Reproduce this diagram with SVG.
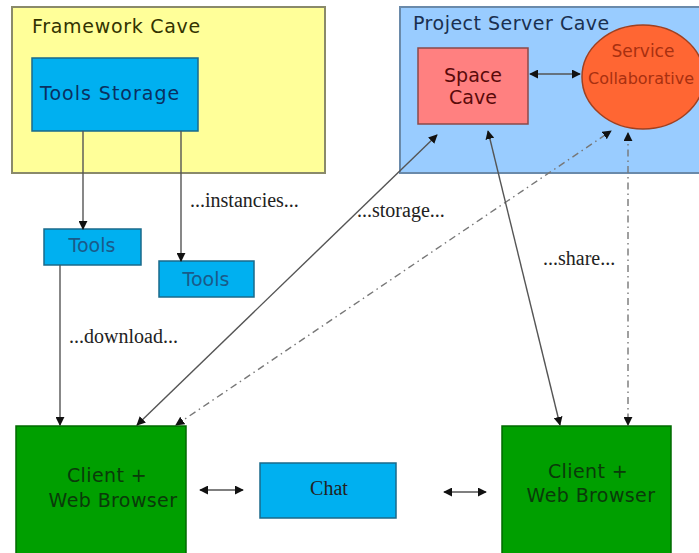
<svg xmlns="http://www.w3.org/2000/svg" width="699" height="553" viewBox="0 0 699 553">
  <style>
    .sans { font-family: "DejaVu Sans", "Liberation Sans", sans-serif; font-size: 19px; }
    .serif { font-family: "Liberation Serif", "DejaVu Serif", serif; font-size: 20px; fill: #222; }
    .small { font-size: 17px; }
    .tiny { font-size: 16px; }
    .blue { fill: #00b0f0; stroke: #1a6a8a; stroke-width: 1.5; }
    .green { fill: #009f00; stroke: #006a00; stroke-width: 1.5; }
    .link { fill: none; stroke: #555; stroke-width: 1.4; }
    .dashdot { fill: none; stroke: #777; stroke-width: 1.4; stroke-dasharray: 7 4 1.5 4; }
  </style>
  <defs>
    <marker id="head" viewBox="0 0 10 10" refX="9" refY="5" markerWidth="9" markerHeight="9" markerUnits="userSpaceOnUse" orient="auto-start-reverse">
      <path d="M0,0 L10,5 L0,10 z" fill="#111"/>
    </marker>
  </defs>

  <rect width="699" height="553" fill="#ffffff"/>

  <g id="framework-cave">
    <rect x="12" y="7" width="313" height="166" fill="#ffff99" stroke="#8a8a6a" stroke-width="2"/>
    <text class="sans" x="32" y="33" letter-spacing="0.7" fill="#333300">Framework Cave</text>
  </g>

  <g id="project-server-cave">
    <rect x="400" y="7" width="305" height="166" fill="#99ccff" stroke="#6a8aaa" stroke-width="2"/>
    <text class="sans" x="413" y="30" letter-spacing="0.5" fill="#1a3050">Project Server Cave</text>
  </g>

  <g id="tools-storage">
    <rect class="blue" x="32" y="58" width="166" height="73"/>
    <text class="sans" x="40" y="100" letter-spacing="1" fill="#0a3060">Tools Storage</text>
  </g>

  <g id="space-cave">
    <rect x="418" y="48" width="110" height="76" fill="#ff8080" stroke="#8a4a4a" stroke-width="1.5"/>
    <text class="sans" x="473" y="82" text-anchor="middle" fill="#5a0a0a">Space</text>
    <text class="sans" x="473" y="104" text-anchor="middle" fill="#5a0a0a">Cave</text>
  </g>

  <g id="service-collaborative">
    <ellipse cx="643" cy="77" rx="61" ry="52" fill="#ff6633" stroke="#a04020" stroke-width="1.5"/>
    <text class="sans small" x="643" y="57" text-anchor="middle" fill="#a83010">Service</text>
    <text class="sans tiny" x="588" y="84" fill="#a83010">Collaborative</text>
  </g>

  <g id="tools-1">
    <rect class="blue" x="44" y="229" width="97" height="36"/>
    <text class="sans" x="92" y="252" text-anchor="middle" fill="#1a5a8a">Tools</text>
  </g>

  <g id="tools-2">
    <rect class="blue" x="159" y="261" width="95" height="36"/>
    <text class="sans" x="206" y="286" text-anchor="middle" fill="#1a5a8a">Tools</text>
  </g>

  <g id="client-left">
    <rect class="green" x="16" y="426" width="170" height="135"/>
    <text class="sans" x="107" y="482" text-anchor="middle" letter-spacing="0.4" fill="#0a3a0a">Client +</text>
    <text class="sans" x="113" y="507" text-anchor="middle" letter-spacing="0.4" fill="#0a3a0a">Web Browser</text>
  </g>

  <g id="chat">
    <rect class="blue" x="260" y="463" width="136" height="55"/>
    <text class="serif" x="329" y="495" text-anchor="middle" fill="#0a3060">Chat</text>
  </g>

  <g id="client-right">
    <rect class="green" x="502" y="426" width="169" height="135"/>
    <text class="sans" x="588" y="478" text-anchor="middle" letter-spacing="0.4" fill="#0a3a0a">Client +</text>
    <text class="sans" x="591" y="502" text-anchor="middle" letter-spacing="0.4" fill="#0a3a0a">Web Browser</text>
  </g>

  <g id="connectors">
    <line class="link" x1="83" y1="131" x2="83" y2="229" marker-end="url(#head)"/>
    <line class="link" x1="181" y1="131" x2="181" y2="261" marker-end="url(#head)"/>
    <line class="link" x1="60" y1="265" x2="60" y2="425" marker-end="url(#head)"/>
    <line class="link" x1="137" y1="425" x2="437" y2="135" marker-start="url(#head)" marker-end="url(#head)"/>
    <line class="dashdot" x1="176" y1="425" x2="611" y2="131" marker-start="url(#head)" marker-end="url(#head)"/>
    <line class="link" x1="488" y1="131" x2="560" y2="425" marker-start="url(#head)" marker-end="url(#head)"/>
    <line class="dashdot" x1="628" y1="133" x2="628" y2="425" marker-start="url(#head)" marker-end="url(#head)"/>
    <line class="link" x1="530" y1="74" x2="580" y2="74" stroke="#111" marker-start="url(#head)" marker-end="url(#head)"/>
    <line class="link" x1="200" y1="490" x2="243" y2="490" stroke="#111" marker-start="url(#head)" marker-end="url(#head)"/>
    <line class="link" x1="444" y1="492" x2="486" y2="492" stroke="#111" marker-start="url(#head)" marker-end="url(#head)"/>

    <text class="serif" x="190" y="207">...instancies...</text>
    <text class="serif" x="69" y="343">...download...</text>
    <text class="serif" x="357" y="217">...storage...</text>
    <text class="serif" x="543" y="265">...share...</text>
  </g>
</svg>
